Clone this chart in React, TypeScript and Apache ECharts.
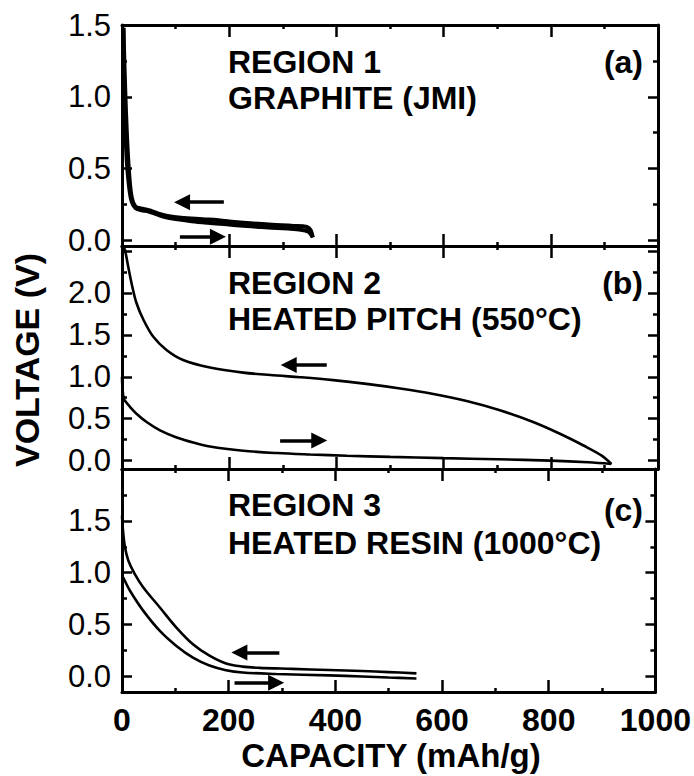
import React, { useEffect, useRef } from "react";
import * as echarts from "echarts";

// ---------- data ----------
const capacityMin = 0;
const capacityMax = 1000;
const capacityInterval = 200;

// Panel (a) graphite (JMI)
const graphiteDischarge: [number, number][] = [
  [2, 1.48], [4, 1.1], [6, 0.8], [9, 0.55], [13, 0.38], [18, 0.27], [25, 0.225],
  [35, 0.21], [50, 0.2], [65, 0.18], [80, 0.162], [100, 0.148], [130, 0.133],
  [160, 0.122], [190, 0.113], [220, 0.102], [260, 0.092], [300, 0.083], [330, 0.075],
  [348, 0.06], [356, 0.02],
];
const graphiteCharge: [number, number][] = [
  [3, 1.48], [4, 1.3], [6, 1.05], [9, 0.75], [13, 0.48], [18, 0.3], [25, 0.235],
  [35, 0.222], [50, 0.21], [65, 0.19], [85, 0.17], [110, 0.157], [150, 0.147],
  [180, 0.14], [210, 0.128], [240, 0.118], [280, 0.108], [320, 0.1], [345, 0.092],
  [352, 0.07], [356, 0.02],
];

// Panel (b) heated pitch (550°C)
const pitchDischarge: [number, number][] = [
  [0, 1.0], [1, 0.85], [3, 0.75], [6, 0.71], [15, 0.64], [27, 0.56], [46, 0.46],
  [71, 0.36], [102, 0.275], [133, 0.215], [164, 0.168], [226, 0.118], [289, 0.09],
  [351, 0.073], [420, 0.058], [500, 0.045], [600, 0.03], [700, 0.016], [800, 0.0],
  [870, -0.02], [913, -0.04],
];
const pitchCharge: [number, number][] = [
  [3, 2.55], [6, 2.5], [12, 2.3], [18, 2.11], [27, 1.88], [40, 1.68], [58, 1.48],
  [83, 1.32], [114, 1.2], [164, 1.11], [226, 1.05], [289, 1.015], [332, 0.995],
  [394, 0.96], [456, 0.915], [519, 0.86], [581, 0.795], [643, 0.71], [705, 0.6],
  [767, 0.46], [817, 0.32], [861, 0.18], [895, 0.06], [913, -0.04],
];

// Panel (c) heated resin (1000°C)
const resinDischarge: [number, number][] = [
  [0, 0.97], [2.5, 0.95], [15, 0.826], [40, 0.632], [71, 0.439], [102, 0.294],
  [133, 0.181], [164, 0.105], [195, 0.06], [226, 0.038], [289, 0.024], [388, 0.01],
  [450, 0.0], [500, -0.01], [552, -0.02],
];
const resinCharge: [number, number][] = [
  [0, 1.55], [2, 1.4], [5.6, 1.246], [12, 1.116], [24, 0.987], [40, 0.858],
  [71, 0.665], [102, 0.471], [133, 0.31], [164, 0.2], [195, 0.125], [226, 0.095],
  [257, 0.083], [319, 0.073], [388, 0.062], [450, 0.052], [500, 0.042], [552, 0.03],
];

const voltageRanges: [number, number][] = [[-0.04, 1.5], [-0.1, 2.56], [-0.15, 2.0]];
const voltageLabels: number[][] = [[0, 0.5, 1, 1.5], [0, 0.5, 1, 1.5, 2], [0, 0.5, 1, 1.5]];
const voltageMajorTicks: number[][] = [[0, 0.5, 1, 1.5], [0, 0.5, 1, 1.5, 2, 2.5], [0, 0.5, 1, 1.5, 2]];
const voltageMinorTicks: number[][] = [[0.25, 0.75, 1.25], [0.25, 0.75, 1.25, 1.75, 2.25], [0.25, 0.75, 1.25, 1.75]];

const panelTitles: [string, string][] = [
  ["REGION 1", "GRAPHITE (JMI)"],
  ["REGION 2", "HEATED PITCH (550°C)"],
  ["REGION 3", "HEATED RESIN (1000°C)"],
];
const panelTags = ["(a)", "(b)", "(c)"];

// direction arrows (data coordinates: tail -> head)
const chargeArrows: [number, number][][] = [
  [[190, 0.265], [112, 0.265]],
  [[382, 1.14], [311, 1.14]],
  [[295, 0.23], [220, 0.23]],
];
const dischargeArrows: [number, number][][] = [
  [[108, 0.025], [179, 0.025]],
  [[295, 0.24], [368, 0.24]],
  [[211, -0.06], [289, -0.06]],
];

const xTitle = "CAPACITY (mAh/g)";
const yTitle = "VOLTAGE (V)";

// ---------- layout ----------
const FONT = '"Liberation Sans", Arial, Helvetica, sans-serif';
const GRID_LEFT = 122;
const GRID_WIDTH = 536;
const gridTops = [25, 246, 469];
const gridHeights = [221, 223, 223];
const titleY = [[62, 98], [283, 319], [505, 543]];
const tagY = [62, 283, 510];

const panelSeries = [
  [graphiteDischarge, graphiteCharge],
  [pitchDischarge, pitchCharge],
  [resinDischarge, resinCharge],
];
const lineWidths = [4, 2.6, 2.6];

export default function App() {
  const ref = useRef<HTMLDivElement>(null);

  useEffect(() => {
    if (!ref.current) return;
    const chart = echarts.init(ref.current, undefined, { renderer: "svg" });

    const grid = gridTops.map((t, i) => ({
      left: GRID_LEFT,
      width: GRID_WIDTH,
      top: t,
      height: gridHeights[i],
      containLabel: false,
    }));

    const xAxis: any[] = [];
    const yAxis: any[] = [];
    for (let i = 0; i < 3; i++) {
      for (const pos of ["bottom", "top"]) {
        xAxis.push({
          gridIndex: i,
          type: "value",
          position: pos,
          min: capacityMin,
          max: capacityMax,
          interval: capacityInterval,
          axisLine: { show: true, onZero: false, lineStyle: { color: "#000", width: 3 } },
          axisTick: { show: true, inside: true, length: 12, lineStyle: { color: "#000", width: 2.5 } },
          minorTick: { show: true, splitNumber: 2, length: 4, lineStyle: { color: "#000", width: 2.5 } },
          axisLabel: {
            show: i === 2 && pos === "bottom",
            formatter: (v: number) => String(v),
            color: "#000",
            fontSize: 32,
            fontWeight: "bold",
            fontFamily: FONT,
            margin: 12,
          },
          splitLine: { show: false },
          minorSplitLine: { show: false },
        });
      }
      const [mn, mx] = voltageRanges[i];
      for (const pos of ["left", "right"]) {
        yAxis.push({
          gridIndex: i,
          type: "value",
          position: pos,
          min: mn,
          max: mx,
          axisLine: { show: true, onZero: false, lineStyle: { color: "#000", width: 3 } },
          axisTick: {
            show: true,
            inside: true,
            length: 10,
            customValues: voltageMajorTicks[i],
            lineStyle: { color: "#000", width: 2.5 },
          },
          axisLabel: {
            show: pos === "left",
            customValues: voltageLabels[i],
            formatter: (v: number) => v.toFixed(1),
            color: "#000",
            fontSize: 31,
            fontFamily: FONT,
            margin: 11,
          },
          splitLine: { show: false },
        });
        yAxis.push({
          gridIndex: i,
          type: "value",
          position: pos,
          min: mn,
          max: mx,
          axisLine: { show: false, onZero: false },
          axisTick: {
            show: true,
            inside: true,
            length: 5,
            customValues: voltageMinorTicks[i],
            lineStyle: { color: "#000", width: 2.5 },
          },
          axisLabel: { show: false },
          splitLine: { show: false },
        });
      }
    }

    const series: any[] = [];
    panelSeries.forEach((pair, i) => {
      pair.forEach((data) => {
        series.push({
          type: "line",
          xAxisIndex: 2 * i,
          yAxisIndex: 4 * i,
          data,
          showSymbol: false,
          symbol: "none",
          smooth: 0.35,
          silent: true,
          lineStyle: { color: "#000", width: lineWidths[i] },
        });
      });
      series.push({
        type: "lines",
        coordinateSystem: "cartesian2d",
        xAxisIndex: 2 * i,
        yAxisIndex: 4 * i,
        symbol: ["none", "triangle"],
        symbolSize: [16, 16],
        silent: true,
        lineStyle: { color: "#000", width: 3.5, opacity: 1 },
        itemStyle: { color: "#000" },
        data: [{ coords: chargeArrows[i] }, { coords: dischargeArrows[i] }],
      });
    });

    const graphic: any[] = [];
    panelTitles.forEach((lines, i) => {
      lines.forEach((t, j) => {
        graphic.push({
          type: "text",
          x: 228,
          y: titleY[i][j],
          silent: true,
          style: {
            text: t,
            font: `bold 32px ${FONT}`,
            fill: "#000",
            textAlign: "left",
            textVerticalAlign: "middle",
          },
        });
      });
      graphic.push({
        type: "text",
        x: 643,
        y: tagY[i],
        silent: true,
        style: {
          text: panelTags[i],
          font: `bold 32px ${FONT}`,
          fill: "#000",
          textAlign: "right",
          textVerticalAlign: "middle",
        },
      });
    });
    graphic.push({
      type: "text",
      x: 27,
      y: 360,
      rotation: Math.PI / 2,
      silent: true,
      style: {
        text: yTitle,
        font: `bold 34px ${FONT}`,
        fill: "#000",
        textAlign: "center",
        textVerticalAlign: "middle",
      },
    });
    graphic.push({
      type: "text",
      x: 391,
      y: 755,
      silent: true,
      style: {
        text: xTitle,
        font: `bold 33px ${FONT}`,
        fill: "#000",
        textAlign: "center",
        textVerticalAlign: "middle",
      },
    });

    chart.setOption({
      animation: false,
      backgroundColor: "#fff",
      grid,
      xAxis,
      yAxis,
      series,
      graphic,
    });

    return () => chart.dispose();
  }, []);

  return (
    <div
      ref={ref}
      style={{ position: "fixed", left: 0, top: 0, width: 694, height: 776, background: "#fff" }}
    />
  );
}
